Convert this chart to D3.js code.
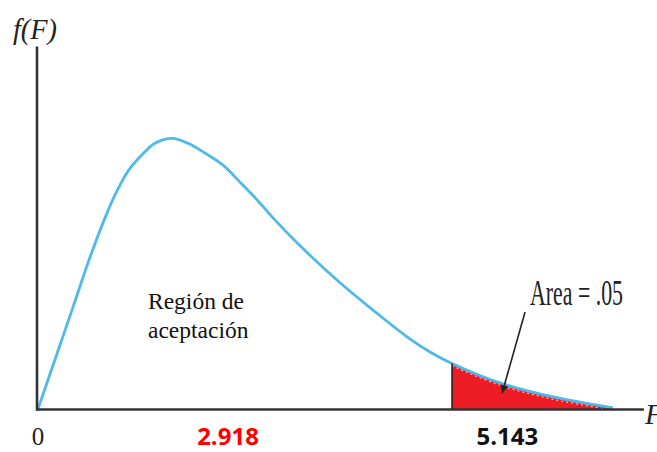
<!DOCTYPE html>
<html>
<head>
<meta charset="utf-8">
<script src="https://cdn.jsdelivr.net/npm/d3@7"></script>
<style>
  body { margin: 0; background: #fff; }
</style>
</head>
<body>
<div class="center"></div>
<script>
// curve: F value and density
var fVals = [0, 0.435, 0.646, 0.832, 0.957, 1.118, 1.292, 1.453, 1.665, 1.863, 2.037, 2.298, 2.509, 2.720, 2.919, 3.217, 3.752, 4.162, 4.584, 4.870, 5.143, 5.739, 6.398, 7.143];
var dens  = [0, 0.168, 0.250, 0.315, 0.353, 0.392, 0.419, 0.438, 0.446, 0.438, 0.425, 0.402, 0.374, 0.345, 0.315, 0.274, 0.208, 0.163, 0.119, 0.094, 0.075, 0.043, 0.020, 0.002];

var critical = 5.143;

// labels under the axis (placed where the picture puts them)
var tickText = ["0", "2.918", "5.143"];
var tickPos  = [0, 2.36, 5.83];
var tickColor = ["#222", "#ff0000", "#111"];

var areaLabel = "Area = .05";
var regionLines = ["Región de", "aceptación"];

// Set the dimensions of the canvas
var W = 657, H = 452;
var margin = {top: 45, left: 38, bottom: 43};

var x = d3.scaleLinear().domain([0, 7.52]).range([margin.left, 643.4]);
var y = d3.scaleLinear().domain([0, 0.6]).range([H - margin.bottom, margin.top]);

var pts = fVals.map(function(f, i) { return {f: f, d: dens[i]}; });
var tail = pts.filter(function(p) { return p.f >= critical; });

var svg = d3.select(".center").append("svg")
    .attr("width", W)
    .attr("height", H);

// arrow head
svg.append("defs").append("marker")
    .attr("id", "head")
    .attr("viewBox", "0 0 10 10")
    .attr("refX", 10).attr("refY", 5)
    .attr("markerWidth", 9).attr("markerHeight", 5)
    .attr("markerUnits", "strokeWidth")
    .attr("orient", "auto")
  .append("path")
    .attr("d", "M0,0 L10,5 L0,10 Z")
    .attr("fill", "#222");

// red rejection area
var area = d3.area()
    .x(function(d) { return x(d.f); })
    .y0(y(0))
    .y1(function(d) { return y(d.d); })
    .curve(d3.curveCatmullRom);

svg.append("path")
    .datum(tail)
    .attr("d", area)
    .attr("fill", "#ed1c24");

var line = d3.line()
    .x(function(d) { return x(d.f); })
    .y(function(d) { return y(d.d); })
    .curve(d3.curveCatmullRom);

// faint white dashes just under the curve in the red part
svg.append("path")
    .datum(tail)
    .attr("d", line)
    .attr("transform", "translate(0,2.5)")
    .attr("fill", "none")
    .attr("stroke", "#fff")
    .attr("stroke-width", 1)
    .attr("stroke-dasharray", "2,3")
    .attr("opacity", 0.8);

// the density curve
svg.append("path")
    .datum(pts)
    .attr("d", line)
    .attr("fill", "none")
    .attr("stroke", "#4fb9ea")
    .attr("stroke-width", 2.8);

// vertical line at the critical value
svg.append("line")
    .attr("x1", x(critical)).attr("x2", x(critical))
    .attr("y1", y(0)).attr("y2", y(dens[fVals.indexOf(critical)]))
    .attr("stroke", "#222")
    .attr("stroke-width", 1.6);

// axes
svg.append("g")
    .attr("transform", "translate(0," + y(0) + ")")
    .call(d3.axisBottom(x.copy().range([margin.left - 1.5, 643.4])).ticks(0).tickSizeOuter(0))
    .select(".domain")
    .attr("stroke", "#333")
    .attr("stroke-width", 2.6);

svg.append("g")
    .attr("transform", "translate(" + (margin.left - 1.5) + ",0)")
    .call(d3.axisLeft(y.copy().range([y(0) + 1.3, margin.top + 1])).ticks(0).tickSizeOuter(0))
    .select(".domain")
    .attr("stroke", "#333")
    .attr("stroke-width", 2.6);

// axis titles
svg.append("text")
    .attr("x", 13).attr("y", 39)
    .attr("textLength", 44).attr("lengthAdjust", "spacingAndGlyphs")
    .style("font-family", "Liberation Serif")
    .style("font-style", "italic")
    .style("font-size", "29px")
    .style("fill", "#222")
    .text("f(F)");

svg.append("text")
    .attr("x", 645).attr("y", 424)
    .style("font-family", "Liberation Serif")
    .style("font-style", "italic")
    .style("font-size", "29px")
    .style("fill", "#222")
    .text("F");

// labels under the axis
svg.selectAll("ticklab")
    .data(tickText)
    .enter().append("text")
    .attr("x", function(d, i) { return x(tickPos[i]); })
    .attr("y", 445)
    .attr("text-anchor", "middle")
    .style("font-family", function(d, i) { return i == 0 ? "Liberation Serif" : "Open Sans"; })
    .style("font-weight", function(d, i) { return i == 0 ? "normal" : "bold"; })
    .style("font-size", function(d, i) { return i == 0 ? "25px" : "24px"; })
    .style("fill", function(d, i) { return tickColor[i]; })
    .text(function(d) { return d; });

// region label
svg.selectAll("reglab")
    .data(regionLines)
    .enter().append("text")
    .attr("x", 148)
    .attr("y", function(d, i) { return 309 + i * 29; })
    .style("font-family", "Liberation Serif")
    .style("font-size", "23.5px")
    .style("fill", "#111")
    .text(function(d) { return d; });

// area label and arrow
svg.append("text")
    .attr("x", 530).attr("y", 305)
    .attr("textLength", 93).attr("lengthAdjust", "spacingAndGlyphs")
    .style("font-family", "Liberation Serif")
    .style("font-size", "36px")
    .style("fill", "#222")
    .text(areaLabel);

svg.append("line")
    .attr("x1", x(6.05)).attr("y1", y(0.160))
    .attr("x2", x(5.765)).attr("y2", y(0.026))
    .attr("stroke", "#222")
    .attr("stroke-width", 1.6)
    .attr("marker-end", "url(#head)");
</script>
</body>
</html>
